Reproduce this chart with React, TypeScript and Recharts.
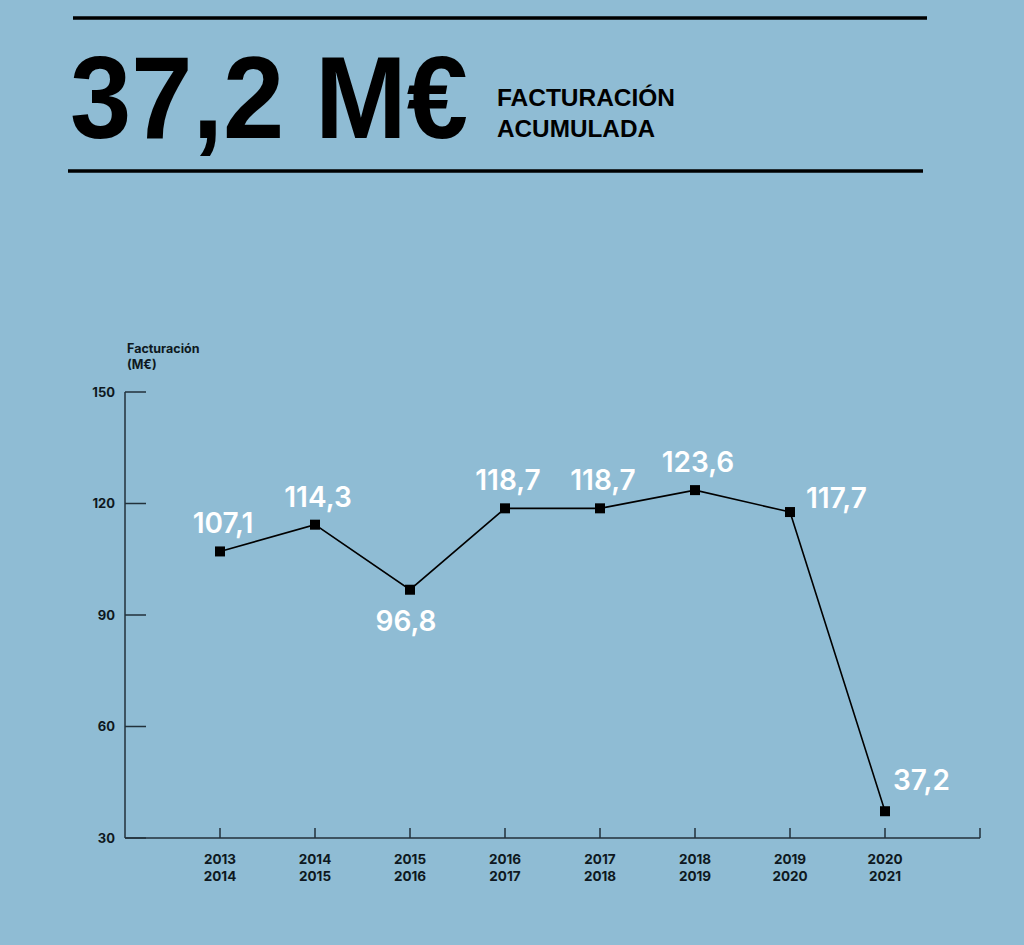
import { LineChart, Line, XAxis, YAxis, LabelList } from "recharts";

const seasonStart = ["2013", "2014", "2015", "2016", "2017", "2018", "2019", "2020"];
const seasonEnd = ["2014", "2015", "2016", "2017", "2018", "2019", "2020", "2021"];
const revenue = [107.1, 114.3, 96.8, 118.7, 118.7, 123.6, 117.7, 37.2];
const yTicks = [30, 60, 90, 120, 150];

// where each value label sits relative to its marker
const labelPlacement = ["above", "above", "below", "above", "above", "above", "right", "upright"];

const BG = "#8fbcd4";
const AXIS = "#22313b";
const INK = "#0e1820";

const data = revenue.map((value, i) => ({
  pos: i + 1,
  value,
  from: seasonStart[i],
  to: seasonEnd[i],
}));

const xTicks = [...data.map((d) => d.pos), data.length + 1];

const fmt = (v: number) => v.toFixed(1).replace(".", ",");

function YTick(props: any) {
  const { x, y, payload } = props;
  return (
    <g>
      <line x1={x + 10} x2={x + 31} y1={y} y2={y} stroke={AXIS} strokeWidth={1.5} />
      <text
        x={x}
        y={y + 4.5}
        textAnchor="end"
        fontFamily="Inter, sans-serif"
        fontWeight={700}
        fontSize={13}
        fill={INK}
      >
        {payload.value}
      </text>
    </g>
  );
}

function XTick(props: any) {
  const { x, y, payload } = props;
  const d = data[payload.value - 1];
  return (
    <g>
      <line x1={x} x2={x} y1={y} y2={y - 10} stroke={AXIS} strokeWidth={1.5} />
      {d && (
        <text
          textAnchor="middle"
          fontFamily="Inter, sans-serif"
          fontWeight={700}
          fontSize={13.5}
          fill={INK}
        >
          <tspan x={x} y={y + 26}>{d.from}</tspan>
          <tspan x={x} y={y + 43}>{d.to}</tspan>
        </text>
      )}
    </g>
  );
}

function SquareDot(props: any) {
  const { cx, cy, index } = props;
  return <rect key={`dot-${index}`} x={cx - 5} y={cy - 5} width={10} height={10} fill="#000" />;
}

function ValueLabel(props: any) {
  const { x, y, value, index } = props;
  const place = labelPlacement[index];
  let tx = x + 3;
  let ty = y - 18;
  let anchor = "middle";
  if (place === "below") {
    tx = x - 4;
    ty = y + 41;
  } else if (place === "right") {
    tx = x + 16;
    ty = y - 4;
    anchor = "start";
  } else if (place === "upright") {
    tx = x + 8;
    ty = y - 21;
    anchor = "start";
  }
  return (
    <text
      x={tx}
      y={ty}
      textAnchor={anchor}
      fontFamily="Inter, sans-serif"
      fontWeight={600}
      fontSize={28}
      fill="#fff"
    >
      {fmt(value)}
    </text>
  );
}

export default function App() {
  return (
    <div
      style={{
        position: "absolute",
        left: 0,
        top: 0,
        width: 1024,
        height: 945,
        background: BG,
        overflow: "hidden",
      }}
    >
      <svg width={1024} height={200} style={{ position: "absolute", left: 0, top: 0 }}>
        <line x1={73} x2={927} y1={18} y2={18} stroke="#000" strokeWidth={3.5} />
        <text
          x={70}
          y={138}
          textLength={398}
          lengthAdjust="spacingAndGlyphs"
          fontFamily="'Liberation Sans Narrow', 'Liberation Sans', Arial, sans-serif"
          fontWeight={700}
          fontSize={116}
          fill="#000"
        >
          37,2 M€
        </text>
        <text
          x={497}
          y={106}
          textLength={178}
          lengthAdjust="spacingAndGlyphs"
          fontFamily="'Liberation Sans Narrow', 'Liberation Sans', Arial, sans-serif"
          fontWeight={700}
          fontSize={24}
          fill="#000"
        >
          FACTURACIÓN
        </text>
        <text
          x={497}
          y={137}
          textLength={158}
          lengthAdjust="spacingAndGlyphs"
          fontFamily="'Liberation Sans Narrow', 'Liberation Sans', Arial, sans-serif"
          fontWeight={700}
          fontSize={24}
          fill="#000"
        >
          ACUMULADA
        </text>
        <line x1={68} x2={923} y1={171} y2={171} stroke="#000" strokeWidth={3.5} />
      </svg>

      <div
        style={{
          position: "absolute",
          left: 127,
          top: 341,
          fontFamily: "Inter, sans-serif",
          fontWeight: 700,
          fontSize: 12.5,
          lineHeight: "16px",
          color: INK,
        }}
      >
        Facturación
        <br />
        (M€)
      </div>

      <LineChart
        width={1024}
        height={945}
        data={data}
        margin={{ top: 392, right: 44, bottom: 57, left: 85 }}
        style={{ position: "absolute", left: 0, top: 0 }}
      >
        <XAxis
          dataKey="pos"
          type="number"
          domain={[0, xTicks.length]}
          ticks={xTicks}
          interval={0}
          height={50}
          tickSize={0}
          tickMargin={0}
          tick={<XTick />}
          axisLine={{ stroke: AXIS, strokeWidth: 1.5 }}
        />
        <YAxis
          domain={[30, 150]}
          ticks={yTicks}
          interval={0}
          width={40}
          tickSize={0}
          tickMargin={10}
          tick={<YTick />}
          axisLine={{ stroke: AXIS, strokeWidth: 1.5 }}
        />
        <Line
          type="linear"
          dataKey="value"
          stroke="#000"
          strokeWidth={1.6}
          dot={SquareDot}
          activeDot={false}
          isAnimationActive={false}
        >
          <LabelList dataKey="value" content={ValueLabel} />
        </Line>
      </LineChart>
    </div>
  );
}
